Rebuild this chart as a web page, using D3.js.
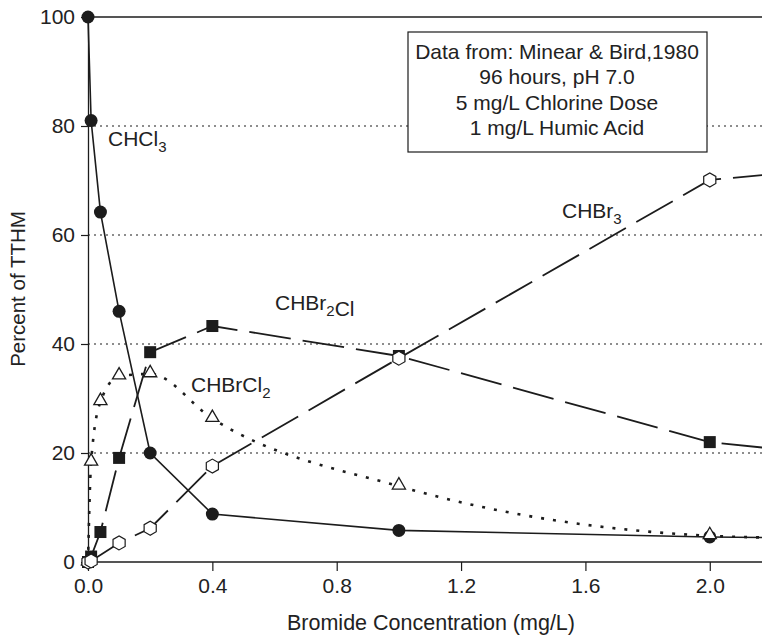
<!DOCTYPE html>
<html>
<head>
<meta charset="utf-8">
<script src="https://cdn.jsdelivr.net/npm/d3@7"></script>
<style>
  body { margin: 0; background: #fff; }
  text { font-family: "Liberation Sans", Arial, sans-serif; fill: #222; }
</style>
</head>
<body>
<div id="chart"></div>
<script>
// bromide concentration (mg/L) and percent of TTHM
// last point of each series is the un-marked tail past 2.0
var xCHCl3   = [0, 0.01, 0.04, 0.1, 0.2, 0.4, 1.0, 2.0, 2.17];
var yCHCl3   = [100, 81, 64.2, 46, 20, 8.8, 5.8, 4.6, 4.5];

var xCHBr2Cl = [0, 0.01, 0.04, 0.1, 0.2, 0.4, 1.0, 2.0, 2.17];
var yCHBr2Cl = [0, 1, 5.5, 19.1, 38.5, 43.3, 37.8, 22, 21];

var xCHBrCl2 = [0, 0.01, 0.04, 0.1, 0.2, 0.4, 1.0, 2.0, 2.17];
var yCHBrCl2 = [0, 18.3, 29.4, 34.1, 34.5, 26.3, 13.9, 4.8, 4.5];

var xCHBr3   = [0, 0.01, 0.1, 0.2, 0.4, 1.0, 2.0, 2.17];
var yCHBr3   = [0, 0.2, 3.5, 6.2, 17.6, 37.4, 70.1, 71];

var xTicks = [0, 0.4, 0.8, 1.2, 1.6, 2.0];
var yTicks = [0, 20, 40, 60, 80, 100];
var gridLines = [20, 40, 60, 80];

var noteLines = ["Data from: Minear & Bird,1980", "96 hours, pH 7.0",
                 "5 mg/L Chlorine Dose", "1 mg/L Humic Acid"];

var width = 762, height = 636;
var plotLeft = 88, plotTop = 17, plotRight = 762, plotBottom = 562;
var ink = "#1c1c1c";

var svg = d3.select("#chart").append("svg")
    .attr("width", width)
    .attr("height", height);

var x = d3.scaleLinear().domain([0, 2.168]).range([plotLeft, plotRight]);
var y = d3.scaleLinear().domain([0, 100]).range([plotBottom, plotTop]);

// dotted grid
svg.selectAll(".grid").data(gridLines).enter().append("line")
   .attr("x1", plotLeft).attr("x2", plotRight)
   .attr("y1", function(d){ return y(d); })
   .attr("y2", function(d){ return y(d); })
   .attr("stroke", ink)
   .attr("stroke-width", 1.2)
   .attr("stroke-dasharray", "2,4");

// solid top line at 100
svg.append("line")
   .attr("x1", plotLeft).attr("x2", plotRight)
   .attr("y1", y(100)).attr("y2", y(100))
   .attr("stroke", ink).attr("stroke-width", 1.3);

// axes
var xAxis = d3.axisBottom(x).tickValues(xTicks).tickFormat(d3.format(".1f"))
    .tickSize(9).tickPadding(7).tickSizeOuter(0);
var gx = svg.append("g").attr("transform", "translate(0," + plotBottom + ")").call(xAxis);

var yAxis = d3.axisLeft(y).tickValues(yTicks).tickFormat(d3.format("d"))
    .tickSize(7).tickPadding(6).tickSizeOuter(0);
var gy = svg.append("g").attr("transform", "translate(" + plotLeft + ",0)").call(yAxis);

[gx, gy].forEach(function(g){
	g.select(".domain").attr("stroke", ink).attr("stroke-width", 1.3);
	g.selectAll(".tick line").attr("stroke", ink).attr("stroke-width", 1.2);
	g.selectAll(".tick text")
	   .attr("font-family", "Liberation Sans, Arial, sans-serif")
	   .attr("font-size", "21px")
	   .attr("fill", "#222");
});
gx.select(".domain").attr("d", "M" + plotLeft + ",0H" + plotRight);

// axis titles
svg.append("text")
   .attr("x", 287)
   .attr("y", 630)
   .attr("font-size", "21.5px")
   .text("Bromide Concentration (mg/L)");

svg.append("text")
   .attr("transform", "translate(25," + 289 + ") rotate(-90)")
   .attr("text-anchor", "middle")
   .attr("font-size", "20.5px")
   .text("Percent of TTHM");

function pts(xs, ys){
	return xs.map(function(d, i){ return [d, ys[i]]; });
}

var lineLinear = d3.line()
    .x(function(d){ return x(d[0]); })
    .y(function(d){ return y(d[1]); });
var lineSmooth = d3.line()
    .x(function(d){ return x(d[0]); })
    .y(function(d){ return y(d[1]); })
    .curve(d3.curveMonotoneX);

var series = [
	{ data: pts(xCHCl3, yCHCl3),     line: lineLinear, dash: null,   width: 1.6 },
	{ data: pts(xCHBr2Cl, yCHBr2Cl), line: lineLinear, dash: "42,12", width: 1.8 },
	{ data: pts(xCHBrCl2, yCHBrCl2), line: lineSmooth, dash: "3,9",  width: 2.6 },
	{ data: pts(xCHBr3, yCHBr3),     line: lineLinear, dash: "42,12", width: 1.8 }
];

series.forEach(function(s){
	svg.append("path")
	   .attr("d", s.line(s.data))
	   .attr("fill", "none")
	   .attr("stroke", ink)
	   .attr("stroke-width", s.width)
	   .attr("stroke-dasharray", s.dash);
});

// markers only up to 2.0
function marked(p){ return p.filter(function(d){ return d[0] <= 2.0; }); }

svg.selectAll(".circ").data(marked(series[0].data)).enter().append("circle")
   .attr("cx", function(d){ return x(d[0]); })
   .attr("cy", function(d){ return y(d[1]); })
   .attr("r", 6.5)
   .attr("fill", ink);

svg.selectAll(".sq").data(marked(series[1].data)).enter().append("rect")
   .attr("x", function(d){ return x(d[0]) - 6; })
   .attr("y", function(d){ return y(d[1]) - 6; })
   .attr("width", 12).attr("height", 12)
   .attr("fill", ink);

var tri = d3.symbol().type(d3.symbolTriangle).size(75);
svg.selectAll(".tri").data(marked(series[2].data)).enter().append("path")
   .attr("d", tri)
   .attr("transform", function(d){ return "translate(" + x(d[0]) + "," + (y(d[1]) - 1) + ")"; })
   .attr("fill", "#fff")
   .attr("stroke", ink)
   .attr("stroke-width", 1.3);

function hexagon(r){
	var p = [];
	for (var k = 0; k < 6; k++) {
		var a = Math.PI / 2 + k * Math.PI / 3;
		p.push([r * Math.cos(a), r * Math.sin(a)]);
	}
	return "M" + p.join("L") + "Z";
}
svg.selectAll(".hex").data(marked(series[3].data)).enter().append("path")
   .attr("d", hexagon(7))
   .attr("transform", function(d){ return "translate(" + x(d[0]) + "," + y(d[1]) + ")"; })
   .attr("fill", "#fff")
   .attr("stroke", ink)
   .attr("stroke-width", 1.2);

// compound labels with subscripts
function label(px, py, parts){
	var t = svg.append("text").attr("x", px).attr("y", py).attr("font-size", "21px");
	parts.forEach(function(p){
		if (p.sub) {
			t.append("tspan").attr("dy", 6).attr("font-size", "15px").text(p.sub);
			t.append("tspan").attr("dy", -6).text("");
		} else {
			t.append("tspan").text(p.t);
		}
	});
}
label(108, 146, [{t: "CHCl"}, {sub: "3"}]);
label(275, 310, [{t: "CHBr"}, {sub: "2"}, {t: "Cl"}]);
label(191, 392, [{t: "CHBrCl"}, {sub: "2"}]);
label(562, 218, [{t: "CHBr"}, {sub: "3"}]);

// note box
svg.append("rect")
   .attr("x", 408).attr("y", 32)
   .attr("width", 299).attr("height", 120)
   .attr("fill", "#fff")
   .attr("stroke", ink)
   .attr("stroke-width", 1.2);

svg.selectAll(".note").data(noteLines).enter().append("text")
   .attr("x", 557)
   .attr("y", function(d, i){ return 59 + i * 25.3; })
   .attr("text-anchor", "middle")
   .attr("font-size", "21px")
   .text(function(d){ return d; });
</script>
</body>
</html>
